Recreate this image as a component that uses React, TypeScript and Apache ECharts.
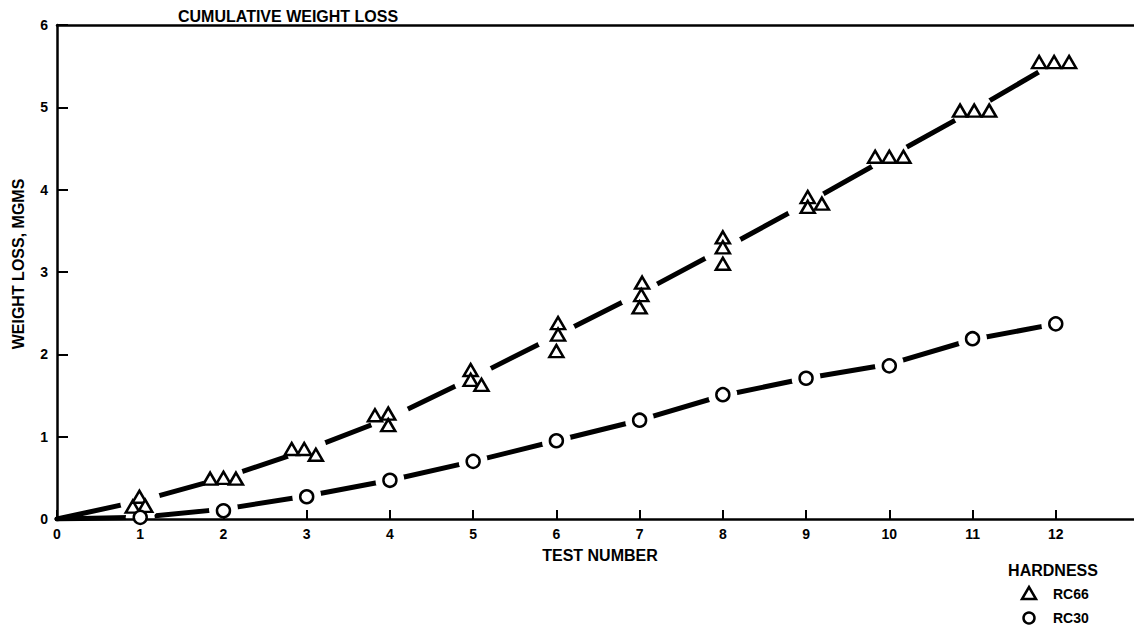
import React, { useEffect, useRef } from "react";
import * as echarts from "echarts";

const TITLE = "CUMULATIVE WEIGHT LOSS";
const X_NAME = "TEST NUMBER";
const Y_NAME = "WEIGHT LOSS, MGMS";
const LEGEND_TITLE = "HARDNESS";
const SERIES_NAMES = ["RC66", "RC30"];

// RC66 measured points (three specimens per test, plotted side by side)
const rc66: number[][] = [
  [0.91, 0.15], [0.99, 0.27], [1.06, 0.16],
  [1.84, 0.49], [2.0, 0.5], [2.15, 0.49],
  [2.82, 0.85], [2.97, 0.85], [3.11, 0.78],
  [3.82, 1.26], [3.98, 1.28], [3.98, 1.14],
  [4.97, 1.81], [4.97, 1.69], [5.1, 1.63],
  [6.02, 2.38], [6.02, 2.24], [6.0, 2.04],
  [7.03, 2.87], [7.02, 2.72], [7.0, 2.57],
  [8.0, 3.42], [8.0, 3.3], [8.0, 3.1],
  [9.02, 3.91], [9.02, 3.79], [9.19, 3.83],
  [9.83, 4.4], [10.0, 4.4], [10.17, 4.4],
  [10.85, 4.96], [11.02, 4.96], [11.2, 4.96],
  [11.8, 5.55], [11.98, 5.55], [12.16, 5.55],
];

// RC30 measured points
const rc30: number[][] = [
  [1, 0.02], [2, 0.1], [3, 0.27], [4, 0.47], [5, 0.7], [6, 0.95],
  [7, 1.2], [8, 1.51], [9, 1.71], [10, 1.86], [11, 2.19], [12, 2.37],
];

// fitted curves
const fit66: number[][] = [
  [0, 0], [1, 0.22], [2, 0.5], [3, 0.84], [4, 1.23], [5, 1.72], [6, 2.23],
  [7, 2.74], [8, 3.28], [9, 3.83], [10, 4.4], [11, 4.96], [12, 5.55],
];
const fit30: number[][] = [
  [0, 0], [1, 0.02], [2, 0.12], [3, 0.28], [4, 0.47], [5, 0.7], [6, 0.95],
  [7, 1.2], [8, 1.5], [9, 1.71], [10, 1.88], [11, 2.18], [12, 2.37],
];

const X_MAX = 12.94;
const Y_MAX = 6;
const FONT = "'Liberation Sans', Arial, sans-serif";

// the fit line's own (white) symbols break the line around each group of marks
const withGaps = (pts: number[][]) =>
  pts.map((p, i) => (i === 0 ? { value: p, symbol: "none" } : { value: p }));

export default function App() {
  const ref = useRef<HTMLDivElement>(null);
  useEffect(() => {
    if (!ref.current) return;
    const chart = echarts.init(ref.current, null, { renderer: "svg" });
    const labelStyle = { color: "#000", fontWeight: "bold" as const, fontFamily: FONT, fontSize: 14 };
    const markStyle = { fill: "#fff", stroke: "#000", lineWidth: 2.5 };
    chart.setOption({
      animation: false,
      backgroundColor: "#fff",
      title: {
        text: TITLE,
        left: 173,
        top: 3,
        textStyle: { color: "#000", fontWeight: "bold", fontFamily: FONT, fontSize: 16 },
      },
      grid: { left: 57, right: 0, top: 25, bottom: 106 },
      graphic: [
        {
          type: "text",
          x: 18,
          y: 264,
          rotation: Math.PI / 2,
          style: {
            text: Y_NAME,
            fill: "#000",
            font: `bold 16px ${FONT}`,
            align: "center",
            verticalAlign: "middle",
          },
        },
        {
          type: "text",
          x: 600,
          y: 555,
          style: { text: X_NAME, fill: "#000", font: `bold 16px ${FONT}`, align: "center", verticalAlign: "middle" },
        },
        {
          type: "text",
          x: 1053,
          y: 570,
          style: { text: LEGEND_TITLE, fill: "#000", font: `bold 16px ${FONT}`, align: "center", verticalAlign: "middle" },
        },
        {
          type: "polygon",
          shape: { points: [[1022, 599], [1036, 599], [1029, 587]] },
          style: markStyle,
        },
        {
          type: "text",
          x: 1053,
          y: 594,
          style: { text: SERIES_NAMES[0], fill: "#000", font: `bold 14px ${FONT}`, align: "left", verticalAlign: "middle" },
        },
        {
          type: "circle",
          shape: { cx: 1029, cy: 618, r: 5.5 },
          style: markStyle,
        },
        {
          type: "text",
          x: 1053,
          y: 618,
          style: { text: SERIES_NAMES[1], fill: "#000", font: `bold 14px ${FONT}`, align: "left", verticalAlign: "middle" },
        },
      ],
      xAxis: [
        {
          type: "value",
          min: 0,
          max: X_MAX,
          interval: 1,
          z: 5,
          splitLine: { show: false },
          axisLine: { show: true, lineStyle: { color: "#000", width: 2.5 } },
          axisTick: { show: true, inside: true, length: 9, lineStyle: { color: "#000", width: 2 } },
          axisLabel: {
            ...labelStyle,
            margin: 8,
            showMaxLabel: false,
            formatter: (v: number) => (Number.isInteger(v) ? String(v) : ""),
          },
        },
        {
          type: "value",
          position: "top",
          min: 0,
          max: X_MAX,
          interval: 1,
          z: 5,
          splitLine: { show: false },
          axisLine: { show: true, lineStyle: { color: "#000", width: 2.5 } },
          axisTick: { show: false },
          axisLabel: { show: false },
        },
      ],
      yAxis: {
        type: "value",
        min: 0,
        max: Y_MAX,
        interval: 1,
        z: 5,
        splitLine: { show: false },
        axisLine: { show: true, lineStyle: { color: "#000", width: 2.5 } },
        axisTick: { show: true, inside: true, length: 11, lineStyle: { color: "#000", width: 2 } },
        axisLabel: { ...labelStyle, margin: 9 },
      },
      series: [
        {
          type: "line",
          data: withGaps(fit66),
          symbol: "circle",
          symbolSize: 40,
          showSymbol: true,
          showAllSymbol: true,
          z: 2,
          itemStyle: { color: "#fff", borderWidth: 0, opacity: 1 },
          lineStyle: { color: "#000", width: 5, cap: "round" },
          silent: true,
        },
        {
          type: "line",
          data: withGaps(fit30),
          symbol: "circle",
          symbolSize: 29,
          showSymbol: true,
          showAllSymbol: true,
          z: 2,
          itemStyle: { color: "#fff", borderWidth: 0, opacity: 1 },
          lineStyle: { color: "#000", width: 5, cap: "round" },
          silent: true,
        },
        {
          name: SERIES_NAMES[0],
          type: "scatter",
          data: rc66,
          symbol: "triangle",
          symbolSize: [14, 12],
          z: 6,
          itemStyle: { color: "#fff", borderColor: "#000", borderWidth: 2.5, opacity: 1 },
        },
        {
          name: SERIES_NAMES[1],
          type: "scatter",
          data: rc30,
          symbol: "circle",
          symbolSize: 13,
          z: 6,
          itemStyle: { color: "#fff", borderColor: "#000", borderWidth: 2.5, opacity: 1 },
        },
      ],
    });
    return () => chart.dispose();
  }, []);
  return (
    <div
      ref={ref}
      style={{ position: "fixed", left: 0, top: 0, width: 1134, height: 625, background: "#fff" }}
    />
  );
}
